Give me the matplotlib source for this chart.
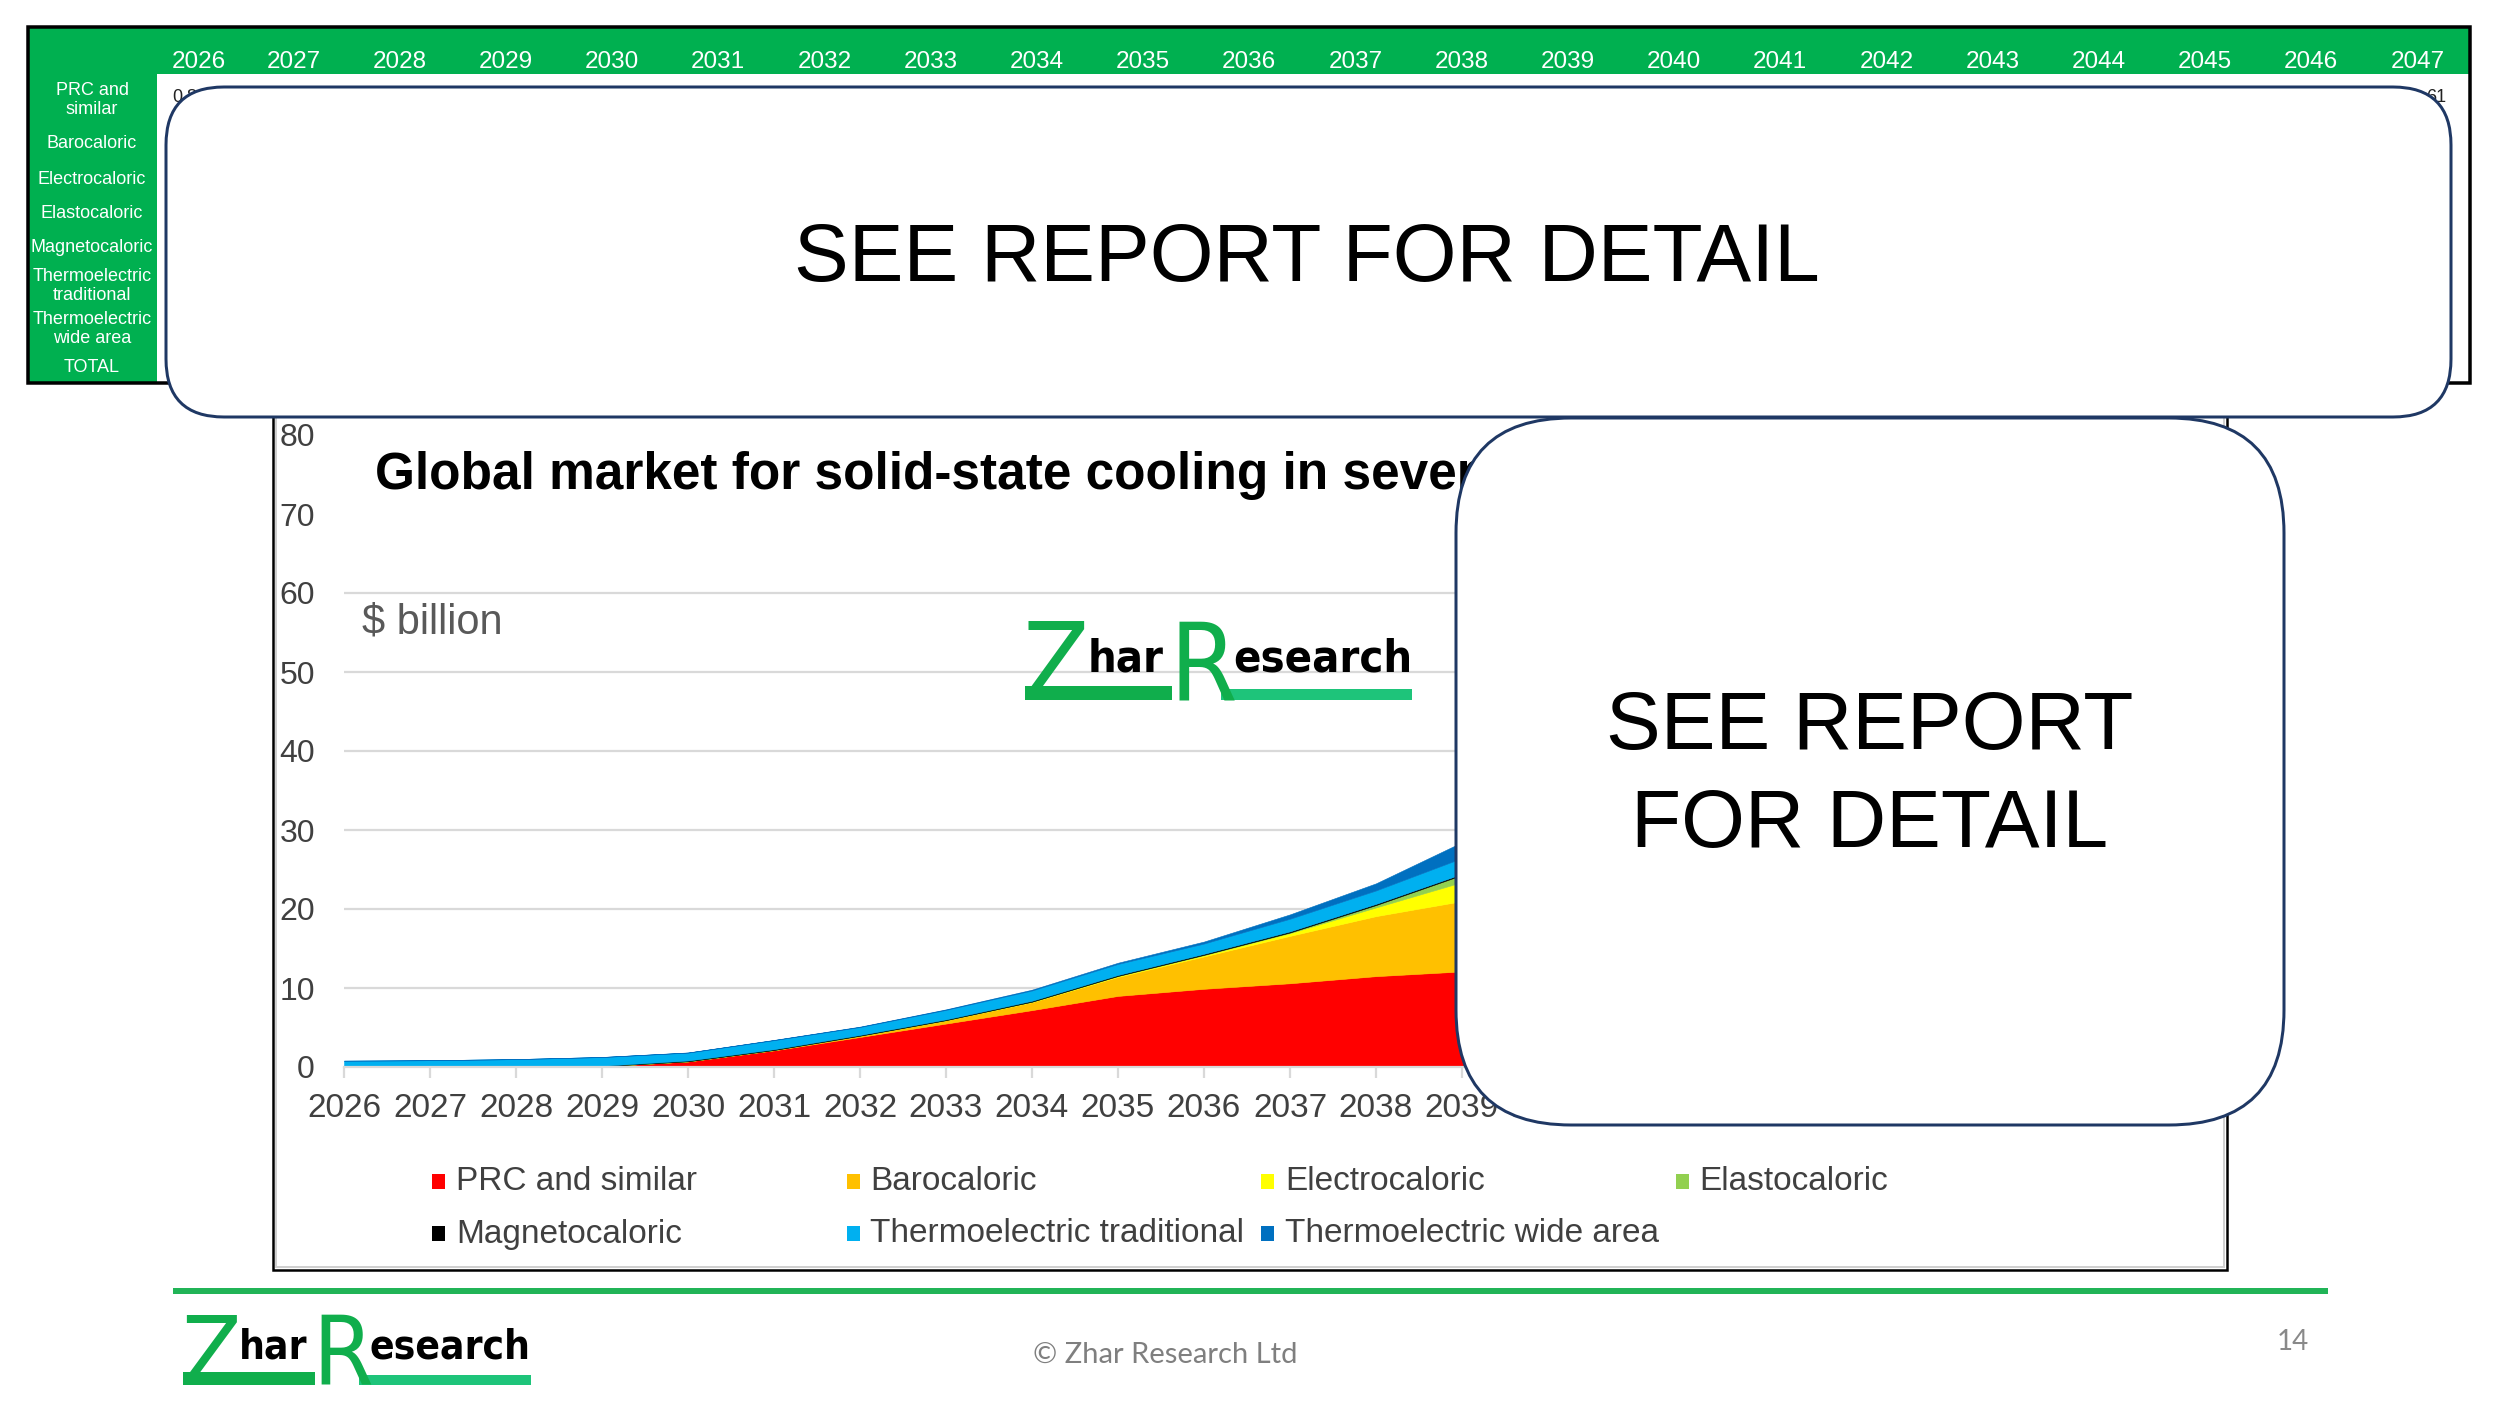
import matplotlib
matplotlib.use('Agg')
import matplotlib.pyplot as plt
import matplotlib.transforms as mtransforms
from matplotlib.patches import Rectangle, FancyBboxPatch
from matplotlib import font_manager as fm

# ---------------- data ----------------
years = list(range(2026, 2048))
labels = ['PRC and similar', 'Barocaloric', 'Electrocaloric', 'Elastocaloric',
          'Magnetocaloric', 'Thermoelectric traditional', 'Thermoelectric wide area']
colors = ['#FF0000', '#FFC000', '#FFFF00', '#92D050', '#000000', '#00B0F0', '#0070C0']

prc      = [0.0, 0.0, 0.02, 0.1, 0.7, 2.1, 3.8, 5.5, 7.2, 9.0, 9.9, 10.6, 11.5, 12.1,
            12.7, 13.2, 13.7, 14.1, 14.5, 14.8, 15.1, 15.4]
baro     = [0.0, 0.0, 0.0, 0.0, 0.02, 0.05, 0.15, 0.4, 1.0, 2.4, 4.1, 6.0, 7.6, 8.9,
            10.2, 11.4, 12.6, 13.7, 14.8, 15.8, 16.8, 17.7]
electro  = [0.0, 0.0, 0.0, 0.0, 0.0, 0.0, 0.01, 0.02, 0.05, 0.1, 0.15, 0.35, 1.1, 2.4,
            3.3, 4.2, 5.1, 6.0, 6.9, 7.8, 8.6, 9.4]
elasto   = [0.0, 0.0, 0.0, 0.0, 0.0, 0.0, 0.0, 0.01, 0.02, 0.03, 0.05, 0.08, 0.3, 0.9,
            1.3, 1.7, 2.1, 2.5, 2.9, 3.3, 3.7, 4.1]
magneto  = [0.0, 0.01, 0.03, 0.06, 0.1, 0.1, 0.1, 0.1, 0.12, 0.12, 0.13, 0.14, 0.15, 0.15,
            0.2, 0.25, 0.3, 0.35, 0.4, 0.45, 0.5, 0.55]
te_trad  = [0.8, 0.85, 0.95, 1.1, 1.0, 1.15, 1.0, 1.2, 1.3, 1.4, 1.3, 1.6, 1.7, 2.0,
            2.2, 2.4, 2.6, 2.8, 3.0, 3.2, 3.4, 3.6]
te_wide  = [0.0, 0.0, 0.0, 0.01, 0.02, 0.03, 0.05, 0.07, 0.1, 0.15, 0.25, 0.55, 0.9, 2.0,
            2.6, 3.2, 3.8, 4.4, 5.0, 5.6, 6.2, 6.8]
series = [prc, baro, electro, elasto, magneto, te_trad, te_wide]

yticks = list(range(0, 81, 10))
table_years = list(range(2026, 2048))
table_rows = ['PRC and\nsimilar', 'Barocaloric', 'Electrocaloric', 'Elastocaloric',
              'Magnetocaloric', 'Thermoelectric\ntraditional', 'Thermoelectric\nwide area', 'TOTAL']

# ---------------- setup ----------------
plt.rcParams['font.family'] = ['Liberation Sans', 'DejaVu Sans']


def narrow_props(weight):
    """Pick a narrow/condensed face if one is installed, else Liberation Sans."""
    for f in fm.fontManager.ttflist:
        if 'Narrow' in f.name and 'Liberation' in f.name:
            return dict(family=f.name, fontweight=weight)
    for f in fm.fontManager.ttflist:
        if f.name == 'DejaVu Sans' and f.stretch == 'condensed':
            return dict(family='DejaVu Sans', fontstretch='condensed', fontweight=weight)
    return dict(family='Liberation Sans', fontweight=weight)


W, H = 2500, 1406
fig = plt.figure(figsize=(W / 100, H / 100), dpi=100)
fig.patch.set_facecolor('white')
PX = mtransforms.Affine2D().scale(1 / W, -1 / H).translate(0, 1) + fig.transFigure
renderer = fig.canvas.get_renderer()


def pt(px):
    return px * 72 / 100


def rect(x, y, w, h, z=1, **kw):
    r = Rectangle((x, y), w, h, transform=PX, zorder=z, **kw)
    fig.add_artist(r)
    return r


def txt(x, y, s, z=3, **kw):
    return fig.text(x, y, s, transform=PX, zorder=z, **kw)


def right_edge(t):
    return t.get_window_extent(renderer=renderer).x1


# ---------------- top table ----------------
GREEN = '#00B050'
rect(28, 27, 2442, 356, z=1, facecolor='white', edgecolor='none')
rect(28, 27, 2442, 47, z=1.1, facecolor=GREEN, edgecolor='none')
rect(28, 27, 129, 356, z=1.1, facecolor=GREEN, edgecolor='none')
rect(28, 27, 2442, 356, z=1.2, facecolor='none', edgecolor='black', linewidth=pt(3.5))
for i, yr in enumerate(table_years):
    xc = 199 if i == 0 else 293.4 + (i - 1) * 106.2
    txt(xc, 62, str(yr), z=2, ha='center', va='center', color='white', fontsize=17.5)
row_y = [100, 143, 179, 213, 247, 286, 329, 367]
for lab, yy in zip(table_rows, row_y):
    txt(92, yy, lab, z=2, ha='center', va='center', color='white',
        fontsize=13, linespacing=1.15)
txt(172, 98, '0.8', z=2, ha='left', va='center', fontsize=13, color='#222222')
txt(2446, 98, '61', z=2, ha='right', va='center', fontsize=13, color='#222222')

# ---------------- chart frame ----------------
rect(276, 403, 1948, 864, z=0.2, facecolor='white', edgecolor='#D0D0D0', linewidth=pt(2))
rect(273, 400, 1954, 870, z=0.3, facecolor='none', edgecolor='black', linewidth=pt(2.5))

# ---------------- chart axes ----------------
ax = fig.add_axes([344 / W, 1 - 1067 / H, (2150 - 344) / W, (1067 - 435) / H])
ax.set_zorder(0.5)
ax.patch.set_alpha(0)
ax.stackplot(years, *series, colors=colors, labels=labels, linewidth=0.4, edgecolor='face')
ax.set_xlim(2026, 2047)
ax.set_ylim(0, 80)
ax.set_xticks(years)
ax.set_xticklabels([str(y) for y in years])
ax.set_yticks(yticks)
ax.set_axisbelow(True)
ax.yaxis.grid(True, color='#D9D9D9', linewidth=1.6)
ax.axhspan(61, 80, color='white', zorder=0.8, linewidth=0)
for s in ['top', 'right', 'left']:
    ax.spines[s].set_visible(False)
ax.spines['bottom'].set_color('#D9D9D9')
ax.spines['bottom'].set_linewidth(1.6)
ax.tick_params(axis='x', length=pt(11), width=1.6, color='#D9D9D9',
               labelcolor='#404040', labelsize=24, pad=11)
ax.tick_params(axis='y', length=0, labelcolor='#404040', labelsize=23, pad=21)

# title and unit
txt(375, 475, 'Global market for solid-state cooling in seven forms, 2026-2047',
    z=3, ha='left', va='center', fontsize=37, fontweight='bold', color='black')
txt(362, 623, '$ billion', z=3, ha='left', va='center', fontsize=30, color='#595959')


# ---------------- logos ----------------
def draw_logo(x0, ytop, s, z=3):
    g1, g2 = '#10AE4C', '#1EC47A'
    big = pt(108 * s)
    small = pt(45 * s)
    base_big = ytop + 83 * s
    base_small = ytop + 54 * s
    tz = txt(x0, base_big, 'Z', z=z, ha='left', va='baseline', fontsize=big,
             color=g1, **narrow_props('normal'))
    xz = right_edge(tz)
    th = txt(xz - 2 * s, base_small, 'har', z=z, ha='left', va='baseline', fontsize=small,
             color='black', **narrow_props('bold'))
    xh = right_edge(th)
    tr = txt(xh + 6 * s, base_big, 'R', z=z, ha='left', va='baseline', fontsize=big,
             color=g1, **narrow_props('normal'))
    xr = right_edge(tr)
    te = txt(xr - 4 * s, base_small, 'esearch', z=z, ha='left', va='baseline', fontsize=small,
             color='black', **narrow_props('bold'))
    xe = right_edge(te)
    rect(x0 + 2 * s, ytop + 69 * s, (xh + 8 * s) - (x0 + 2 * s), 14 * s, z=z,
         facecolor=g1, edgecolor='none')
    rect(xr - 16 * s, ytop + 72 * s, xe - (xr - 16 * s), 11 * s, z=z,
         facecolor=g2, edgecolor='none')


draw_logo(1023, 617, 1.0)
draw_logo(181, 1310, 0.9)

# ---------------- legend (manual, row-major like the original) ----------------
leg_rows = [1182, 1234]
for i, (lab, col) in enumerate(zip(labels, colors)):
    r, c = divmod(i, 4)
    x = 432 + c * 414.5
    y = leg_rows[r]
    rect(x, y - 8, 13, 15, z=3, facecolor=col, edgecolor='none')
    txt(x + 24, y, lab, z=3, ha='left', va='center', fontsize=24, color='#404040')

# ---------------- overlay boxes ----------------
EDGE = '#1F3864'
top_box = FancyBboxPatch((166, 87), 2285, 330, boxstyle='round,pad=0,rounding_size=58',
                         transform=PX, facecolor='white', edgecolor=EDGE,
                         linewidth=pt(3), zorder=10)
fig.add_artist(top_box)
txt(1307, 260, 'SEE REPORT FOR DETAIL', z=11, ha='center', va='center',
    fontsize=59, color='black')

side_box = FancyBboxPatch((1456, 418), 828, 707, boxstyle='round,pad=0,rounding_size=115',
                          transform=PX, facecolor='white', edgecolor=EDGE,
                          linewidth=pt(3), zorder=10)
fig.add_artist(side_box)
txt(1870, 777, 'SEE REPORT\nFOR DETAIL', z=11, ha='center', va='center',
    fontsize=59, color='black', linespacing=1.36)

# ---------------- footer ----------------
rect(173, 1288, 2155, 6, z=2, facecolor='#21B457', edgecolor='none')
txt(1165, 1355, '\u00a9 Zhar Research Ltd', z=3, ha='center', va='center',
    fontsize=21, color='#7F7F7F', family=['Lato', 'DejaVu Sans'])
txt(2293, 1342, '14', z=3, ha='center', va='center', fontsize=20, color='#898989',
    family=['Lato', 'DejaVu Sans'])

fig.savefig('out.png', dpi=100, facecolor='white')
